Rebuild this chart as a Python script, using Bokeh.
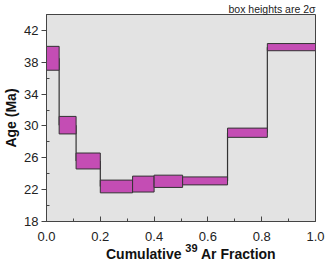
from bokeh.plotting import figure
from bokeh.models import ColumnDataSource, FixedTicker, Range1d, PrintfTickFormatter, Div
from bokeh.layouts import column
from bokeh.embed import file_html
from bokeh.resources import INLINE

# Step edges (cumulative 39Ar fraction), ages (Ma) and 1-sigma half heights
edges = [0.0, 0.047, 0.11, 0.2, 0.32, 0.4, 0.506, 0.673, 0.821, 1.0]
ages = [38.5, 30.1, 25.6, 22.4, 22.7, 23.05, 23.1, 29.15, 39.9]
errs = [1.5, 1.1, 1.0, 0.8, 1.0, 0.77, 0.5, 0.58, 0.45]
x_ticks = [0.0, 0.2, 0.4, 0.6, 0.8, 1.0]
y_ticks = [18, 22, 26, 30, 34, 38, 42]

FONT = "Liberation Sans"

p = figure(width=325, height=246, output_backend="svg", toolbar_location=None,
           x_range=Range1d(0, 1), y_range=Range1d(18, 44),
           min_border_left=45, min_border_right=10, min_border_bottom=25, min_border_top=0)
p.title.text = "box heights are 2\u03c3"
p.title.align = "right"
p.title.text_font = FONT
p.title.text_font_size = "10.5px"
p.title.text_font_style = "normal"
p.title.text_color = "#222222"
p.title.offset = 0
p.title.standoff = 0

p.background_fill_color = "#E3E3E3"
p.border_fill_color = "white"
p.outline_line_color = "#444444"
p.outline_line_width = 1
p.grid.visible = False

src = ColumnDataSource(dict(
    left=edges[:-1], right=edges[1:],
    bottom=[a - e for a, e in zip(ages, errs)],
    top=[a + e for a, e in zip(ages, errs)],
))
seg = ColumnDataSource(dict(
    x0=edges[1:-1], x1=edges[1:-1], y0=ages[:-1], y1=ages[1:],
))
p.segment(x0="x0", y0="y0", x1="x1", y1="y1", source=seg, line_color="#333333", line_width=1.2)
p.quad(left="left", right="right", bottom="bottom", top="top", source=src,
       fill_color="#C44DB4", line_color="#333333", line_width=1)

p.xaxis.ticker = FixedTicker(ticks=x_ticks, minor_ticks=[0.1, 0.3, 0.5, 0.7, 0.9])
p.yaxis.ticker = FixedTicker(ticks=y_ticks, minor_ticks=[20, 24, 28, 32, 36, 40, 44])
p.xaxis.formatter = PrintfTickFormatter(format="%.1f")
for ax in (p.xaxis[0], p.yaxis[0]):
    ax.major_label_text_font = FONT
    ax.major_label_text_font_size = "13px"
    ax.major_label_text_color = "#222222"
    ax.axis_line_color = "#444444"
    ax.major_tick_line_color = "#444444"
    ax.minor_tick_line_color = "#444444"
p.xaxis.major_tick_in = 5
p.xaxis.major_tick_out = 0
p.xaxis.minor_tick_in = 3
p.xaxis.minor_tick_out = 0
p.xaxis.major_label_standoff = 10
p.yaxis.major_tick_in = 0
p.yaxis.major_tick_out = 5
p.yaxis.minor_tick_in = 3
p.yaxis.minor_tick_out = 0
p.yaxis.major_label_standoff = 3
p.yaxis.axis_label = "Age (Ma)"
p.yaxis.axis_label_text_font = FONT
p.yaxis.axis_label_text_font_style = "bold"
p.yaxis.axis_label_text_font_size = "14px"
p.yaxis.axis_label_text_color = "#111111"
p.yaxis.axis_label_standoff = 2

xlabel = Div(
    text=("Cumulative <span style='font-size:11px; position:relative; top:-7px'>39</span>"
          " Ar Fraction"),
    width=325, height=16, margin=(0, 0, 0, 0),
    styles={"font-family": FONT, "font-weight": "bold", "font-size": "14px",
            "color": "#111111", "line-height": "16px", "padding-left": "106px",
            "white-space": "nowrap"},
)

layout = column(p, xlabel, spacing=0)
open("out.html", "w").write(file_html(layout, INLINE))
